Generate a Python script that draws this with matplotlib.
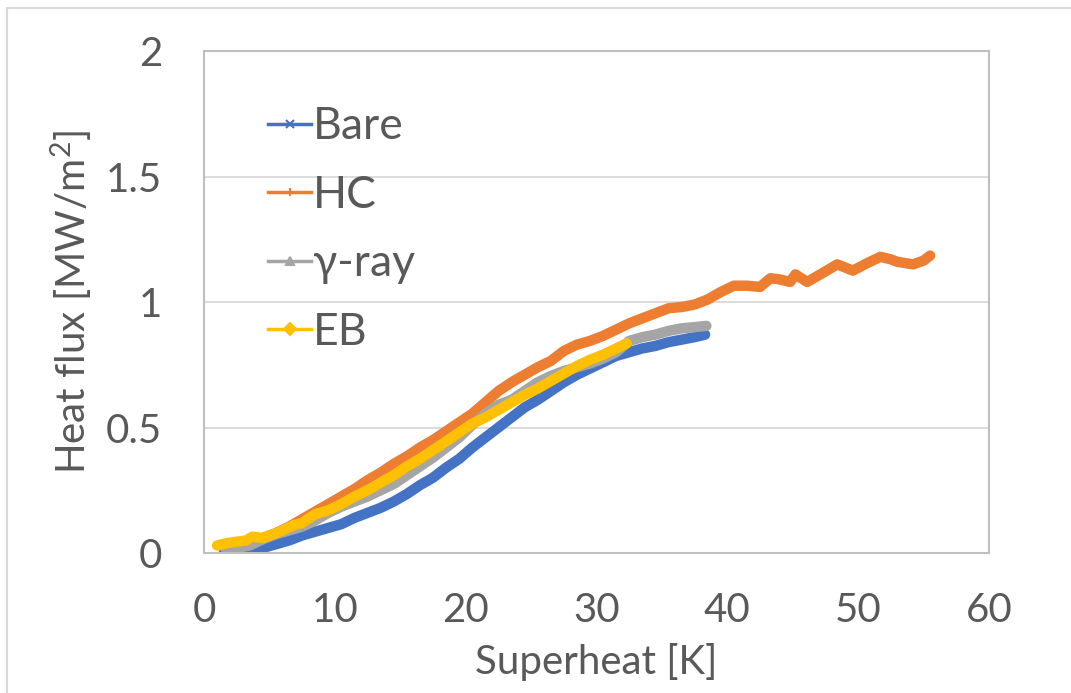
import numpy as np
import matplotlib.pyplot as plt
from matplotlib.lines import Line2D
from matplotlib.ticker import FuncFormatter

plt.rcParams['font.family'] = ['Lato', 'DejaVu Sans']
plt.rcParams['mathtext.default'] = 'regular'

# 沸腾曲线数据 (过热度 K, 热流密度 MW/m2)
bare_T = [1.5, 2.5, 3.5, 4.5, 5.5, 6.5, 7.5, 8.5, 9.5, 10.5, 11.5, 12.5, 13.5, 14.5,
          15.5, 16.5, 17.5, 18.5, 19.5, 20.5, 21.5, 22.5, 23.5, 24.5, 25.5, 26.5,
          27.5, 28.5, 29.5, 30.5, 31.5, 32.5, 33.5, 34.5, 35.5, 36.5, 37.5, 38.3]
bare_q = [0.0, 0.0, 0.005, 0.02, 0.035, 0.05, 0.07, 0.085, 0.10, 0.115, 0.14, 0.16,
          0.18, 0.205, 0.235, 0.27, 0.30, 0.34, 0.375, 0.42, 0.46, 0.50, 0.54, 0.58,
          0.61, 0.645, 0.68, 0.71, 0.735, 0.76, 0.785, 0.80, 0.815, 0.825, 0.84,
          0.85, 0.86, 0.87]

hc_T = [1.5, 2.5, 3.5, 4.5, 5.5, 6.5, 7.5, 8.5, 9.5, 10.5, 11.5, 12.5, 13.5, 14.5,
        15.5, 16.5, 17.5, 18.5, 19.5, 20.5, 21.5, 22.5, 23.5, 24.5, 25.5, 26.5, 27.5,
        28.5, 29.5, 30.5, 31.5, 32.5, 33.5, 34.5, 35.5, 36.5, 37.5, 38.5, 39.5, 40.5,
        41.5, 42.5, 43.3, 44.0, 44.8, 45.2, 46.1, 47.1, 48.4, 49.6, 50.5, 51.7, 52.5,
        53.0, 54.2, 55.0, 55.5]
hc_q = [0.03, 0.035, 0.045, 0.06, 0.08, 0.105, 0.135, 0.165, 0.195, 0.225, 0.255,
        0.29, 0.32, 0.355, 0.385, 0.42, 0.45, 0.485, 0.52, 0.555, 0.60, 0.645, 0.68,
        0.71, 0.74, 0.765, 0.805, 0.83, 0.845, 0.865, 0.89, 0.915, 0.935, 0.955,
        0.975, 0.98, 0.99, 1.01, 1.04, 1.065, 1.065, 1.06, 1.095, 1.09, 1.08, 1.11,
        1.08, 1.11, 1.15, 1.125, 1.15, 1.18, 1.17, 1.16, 1.15, 1.165, 1.185]

gamma_T = [1.6, 2.5, 3.5, 4.5, 5.5, 6.5, 7.5, 8.5, 9.5, 10.5, 11.5, 12.5, 13.5, 14.5,
           15.5, 16.5, 17.5, 18.5, 19.5, 20.5, 21.5, 22.5, 23.5, 24.5, 25.5, 26.5,
           27.5, 28.5, 29.5, 30.5, 31.5, 32.5, 33.5, 34.5, 35.5, 36.5, 37.5, 38.4]
gamma_q = [0.02, 0.02, 0.03, 0.055, 0.075, 0.09, 0.105, 0.13, 0.16, 0.185, 0.205,
           0.225, 0.25, 0.275, 0.31, 0.345, 0.38, 0.42, 0.46, 0.51, 0.555, 0.59,
           0.61, 0.645, 0.68, 0.705, 0.725, 0.74, 0.755, 0.775, 0.80, 0.845, 0.86,
           0.87, 0.885, 0.895, 0.90, 0.905]

eb_T = [1.0, 1.8, 2.5, 3.2, 3.7, 4.5, 5.3, 6.0, 6.8, 7.5, 8.5, 9.5, 10.5, 11.5, 12.5,
        13.5, 14.5, 15.5, 16.5, 17.5, 18.5, 19.5, 20.5, 21.5, 22.5, 23.5, 24.5, 25.5,
        26.5, 27.5, 28.5, 29.5, 30.5, 31.5, 32.3]
eb_q = [0.03, 0.04, 0.045, 0.05, 0.065, 0.06, 0.075, 0.09, 0.11, 0.12, 0.155, 0.17,
        0.195, 0.225, 0.25, 0.28, 0.31, 0.345, 0.375, 0.41, 0.445, 0.48, 0.515, 0.54,
        0.57, 0.60, 0.63, 0.655, 0.685, 0.715, 0.745, 0.77, 0.79, 0.815, 0.835]

names = ['Bare', 'HC', 'γ-ray', 'EB']
colors = ['#4472C4', '#ED7D31', '#A5A5A5', '#FFC000']
markers = ['x', '|', '^', 'D']
series = [(bare_T, bare_q), (hc_T, hc_q), (gamma_T, gamma_q), (eb_T, eb_q)]

txt = '#595959'

fig = plt.figure(figsize=(10.71, 6.93), dpi=100)
ax = fig.add_axes([0.1905, 0.202, 0.7329, 0.7244])

for (T, q), c in zip(series, colors):
    ax.plot(T, q, color=c, lw=7.5, solid_capstyle='round', solid_joinstyle='round')

ax.set_xlim(0, 60)
ax.set_ylim(0, 2)
ax.set_xticks(np.arange(0, 61, 10))
ax.set_yticks(np.arange(0, 2.01, 0.5))
ax.yaxis.set_major_formatter(FuncFormatter(lambda v, p: '{:g}'.format(v)))
ax.tick_params(length=0, labelsize=29, colors=txt)
ax.tick_params(axis='y', pad=30)
ax.tick_params(axis='x', pad=28)
ax.grid(axis='y', color='#D9D9D9', lw=1.3)
ax.set_axisbelow(True)
for s in ax.spines.values():
    s.set_color('#BFBFBF')
    s.set_linewidth(1.5)

ax.set_xlabel('Superheat [K]', fontsize=29, color=txt, labelpad=10)
ax.set_ylabel('Heat flux [MW/m$^{2}$]', fontsize=29, color=txt, labelpad=8)

handles = [Line2D([], [], color=c, lw=2.5, marker=m, markersize=6, markeredgewidth=1.5)
           for c, m in zip(colors, markers)]
leg = ax.legend(handles, names, loc='upper left', bbox_to_anchor=(0.082, 0.89),
                borderaxespad=0, borderpad=0, frameon=False, fontsize=32,
                handlelength=0.95, handletextpad=0.06, labelspacing=0.62)
for t in leg.get_texts():
    t.set_color(txt)

# 外框
fig.add_artist(Line2D([7 / 1071, 1], [1 - 8 / 693, 1 - 8 / 693], color='#D9D9D9', lw=1.5))
fig.add_artist(Line2D([7 / 1071, 7 / 1071], [0, 1 - 8 / 693], color='#D9D9D9', lw=1.5))

plt.savefig('out.png', dpi=100)
